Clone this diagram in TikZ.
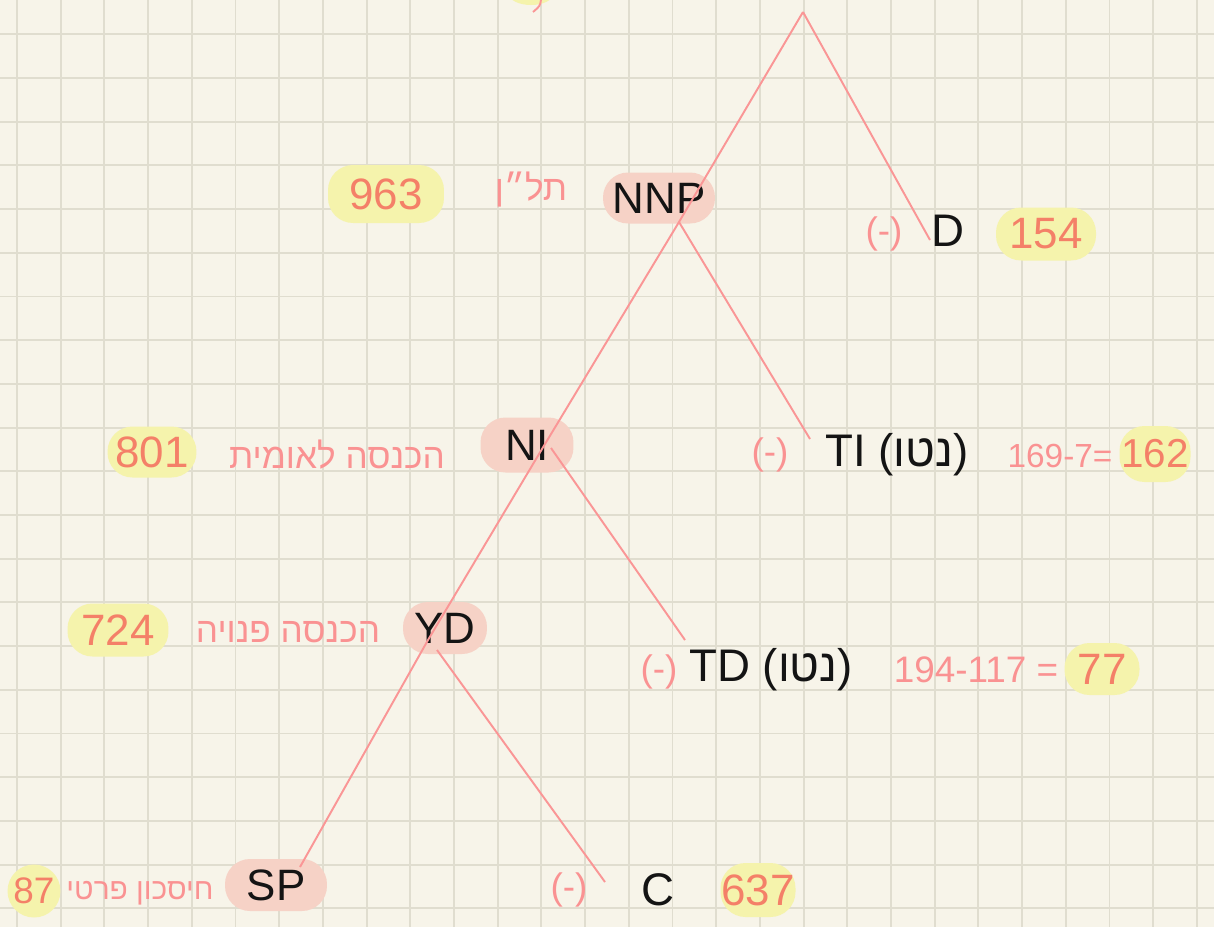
\documentclass[tikz,border=0pt]{standalone}
\usepackage{fontspec}
\setmainfont{Liberation Sans}
\newfontfamily\hebfont[Script=Hebrew]{Liberation Sans}
\TeXXeTstate=1
\usetikzlibrary{positioning}
\definecolor{PaperCream}{RGB}{247,244,233}
\definecolor{GridBeige}{RGB}{224,221,207}
\definecolor{TreePink}{RGB}{250,150,150}
\definecolor{PillSalmon}{RGB}{246,210,198}
\definecolor{HiliteYellow}{RGB}{245,243,172}
\definecolor{NumOrange}{RGB}{244,128,104}
\definecolor{NotePink}{RGB}{250,146,146}
\definecolor{InkBlack}{RGB}{20,20,20}
\newcommand{\hebtext}[1]{{\hebfont\beginR #1\endR}}

\begin{document}
\begin{tikzpicture}[
  x=0.02cm, y=-0.02cm,
  gridline/.style={GridBeige, line width=1.1pt},
  branch/.style={TreePink, line width=1.1pt},
  pill/.style={
    rectangle,
    rounded corners=0.5cm,
    fill=PillSalmon,
    inner sep=0pt,
    text=InkBlack,
    font=\fontsize{25}{28}\selectfont
  },
  hilite/.style={
    rectangle,
    rounded corners=0.5cm,
    fill=HiliteYellow,
    inner sep=0pt,
    text=NumOrange,
    font=\fontsize{25}{28}\selectfont
  },
  term/.style={text=InkBlack, font=\fontsize{26}{29}\selectfont},
  note/.style={text=NotePink, font=\fontsize{20}{22}\hebfont},
  sign/.style={text=NotePink, font=\fontsize{21}{24}\selectfont}
]

  \fill[PaperCream] (0,0) rectangle (1214,927);
  \useasboundingbox (0,0) rectangle (1214,927);

  \foreach \gx in {0,...,27}
    \draw[gridline] ({17+43.7*\gx},0) -- ({17+43.7*\gx},927);
  \foreach \gy in {0,...,20}
    \draw[gridline] (0,{34.3+43.7*\gy}) -- (1214,{34.3+43.7*\gy});

  % cut off label at the top edge
  \fill[HiliteYellow] (531,-6) ellipse (22 and 11);
  \draw[branch] (541,0) .. controls (540,6) .. (533,12);

  % pills
  \node[pill, minimum width=2.24cm, minimum height=1.02cm] (nnp) at (659,198) {NNP};
  \node[pill, minimum width=1.86cm, minimum height=1.10cm] (ni) at (527,445) {NI};
  \node[pill, minimum width=1.68cm, minimum height=1.04cm] (yd) at (445,628) {YD};
  \node[pill, minimum width=2.04cm, minimum height=1.04cm] (sp) at (276,885) {SP};

  % values
  \node[hilite, minimum width=2.32cm, minimum height=1.16cm] (nnpVal) at (386,194) {963};
  \node[hilite, minimum width=2.00cm, minimum height=1.06cm] (dVal) at (1046,234) {154};
  \node[hilite, minimum width=1.78cm, minimum height=1.02cm] (niVal) at (152,452) {801};
  \node[hilite, minimum width=1.42cm, minimum height=1.12cm, font=\fontsize{23}{26}\selectfont] (tiVal) at (1155,454) {162};
  \node[hilite, minimum width=2.02cm, minimum height=1.06cm] (ydVal) at (118,630) {724};
  \node[hilite, minimum width=1.50cm, minimum height=1.04cm] (tdVal) at (1102,669) {77};
  \node[hilite, circle, minimum size=1.06cm, font=\fontsize{21}{24}\selectfont] (spVal) at (34,891) {87};
  \node[hilite, minimum width=1.50cm, minimum height=1.08cm] (cVal) at (758,890) {637};

  % hebrew notes
  \node[note] (nnpNote) at (531,190) {\hebtext{תל״ן}};
  \node[note] (niNote) at (337,455) {\hebtext{הכנסה לאומית}};
  \node[note] (ydNote) at (288,632) {\hebtext{הכנסה פנויה}};
  \node[note, font=\fontsize{17}{20}\hebfont] (spNote) at (140,893) {\hebtext{חיסכון פרטי}};

  % deductions
  \node[sign] (dSign) at (884,234) {(-)};
  \node[term] (d) at (948,231) {D};
  \node[sign] (tiSign) at (770,455) {(-)};
  \node[term] (ti) at (897,455) {TI (\hebtext{נטו})};
  \node[sign, font=\fontsize{19}{22}\selectfont] (tiCalc) at (1060,456) {169-7=};
  \node[sign] (tdSign) at (659,672) {(-)};
  \node[term] (td) at (771,670) {TD (\hebtext{נטו})};
  \node[sign] (tdCalc) at (976,670) {194-117 =};
  \node[sign] (cSign) at (569,890) {(-)};
  \node[term] (c) at (658,890) {C};

  \coordinate (root)  at (803,12);
  \coordinate (jNNP)  at (679,222);
  \coordinate (jNI)   at (545,444);
  \coordinate (jYD)   at (428,640);
  \coordinate (spEnd) at (300,867);
  \coordinate (tdFork) at (551,448);
  \coordinate (cFork)  at (437,650);
  \coordinate (dEnd)  at (930,240);
  \coordinate (tiEnd) at (810,439);
  \coordinate (tdEnd) at (685,640);
  \coordinate (cEnd)  at (605,882);

  \draw[branch] (root) -- (jNNP) -- (jNI) -- (jYD) -- (spEnd);
  \draw[branch] (root) -- (dEnd);
  \draw[branch] (jNNP) -- (tiEnd);
  \draw[branch] (tdFork) -- (tdEnd);
  \draw[branch] (cFork) -- (cEnd);

\end{tikzpicture}
\end{document}
